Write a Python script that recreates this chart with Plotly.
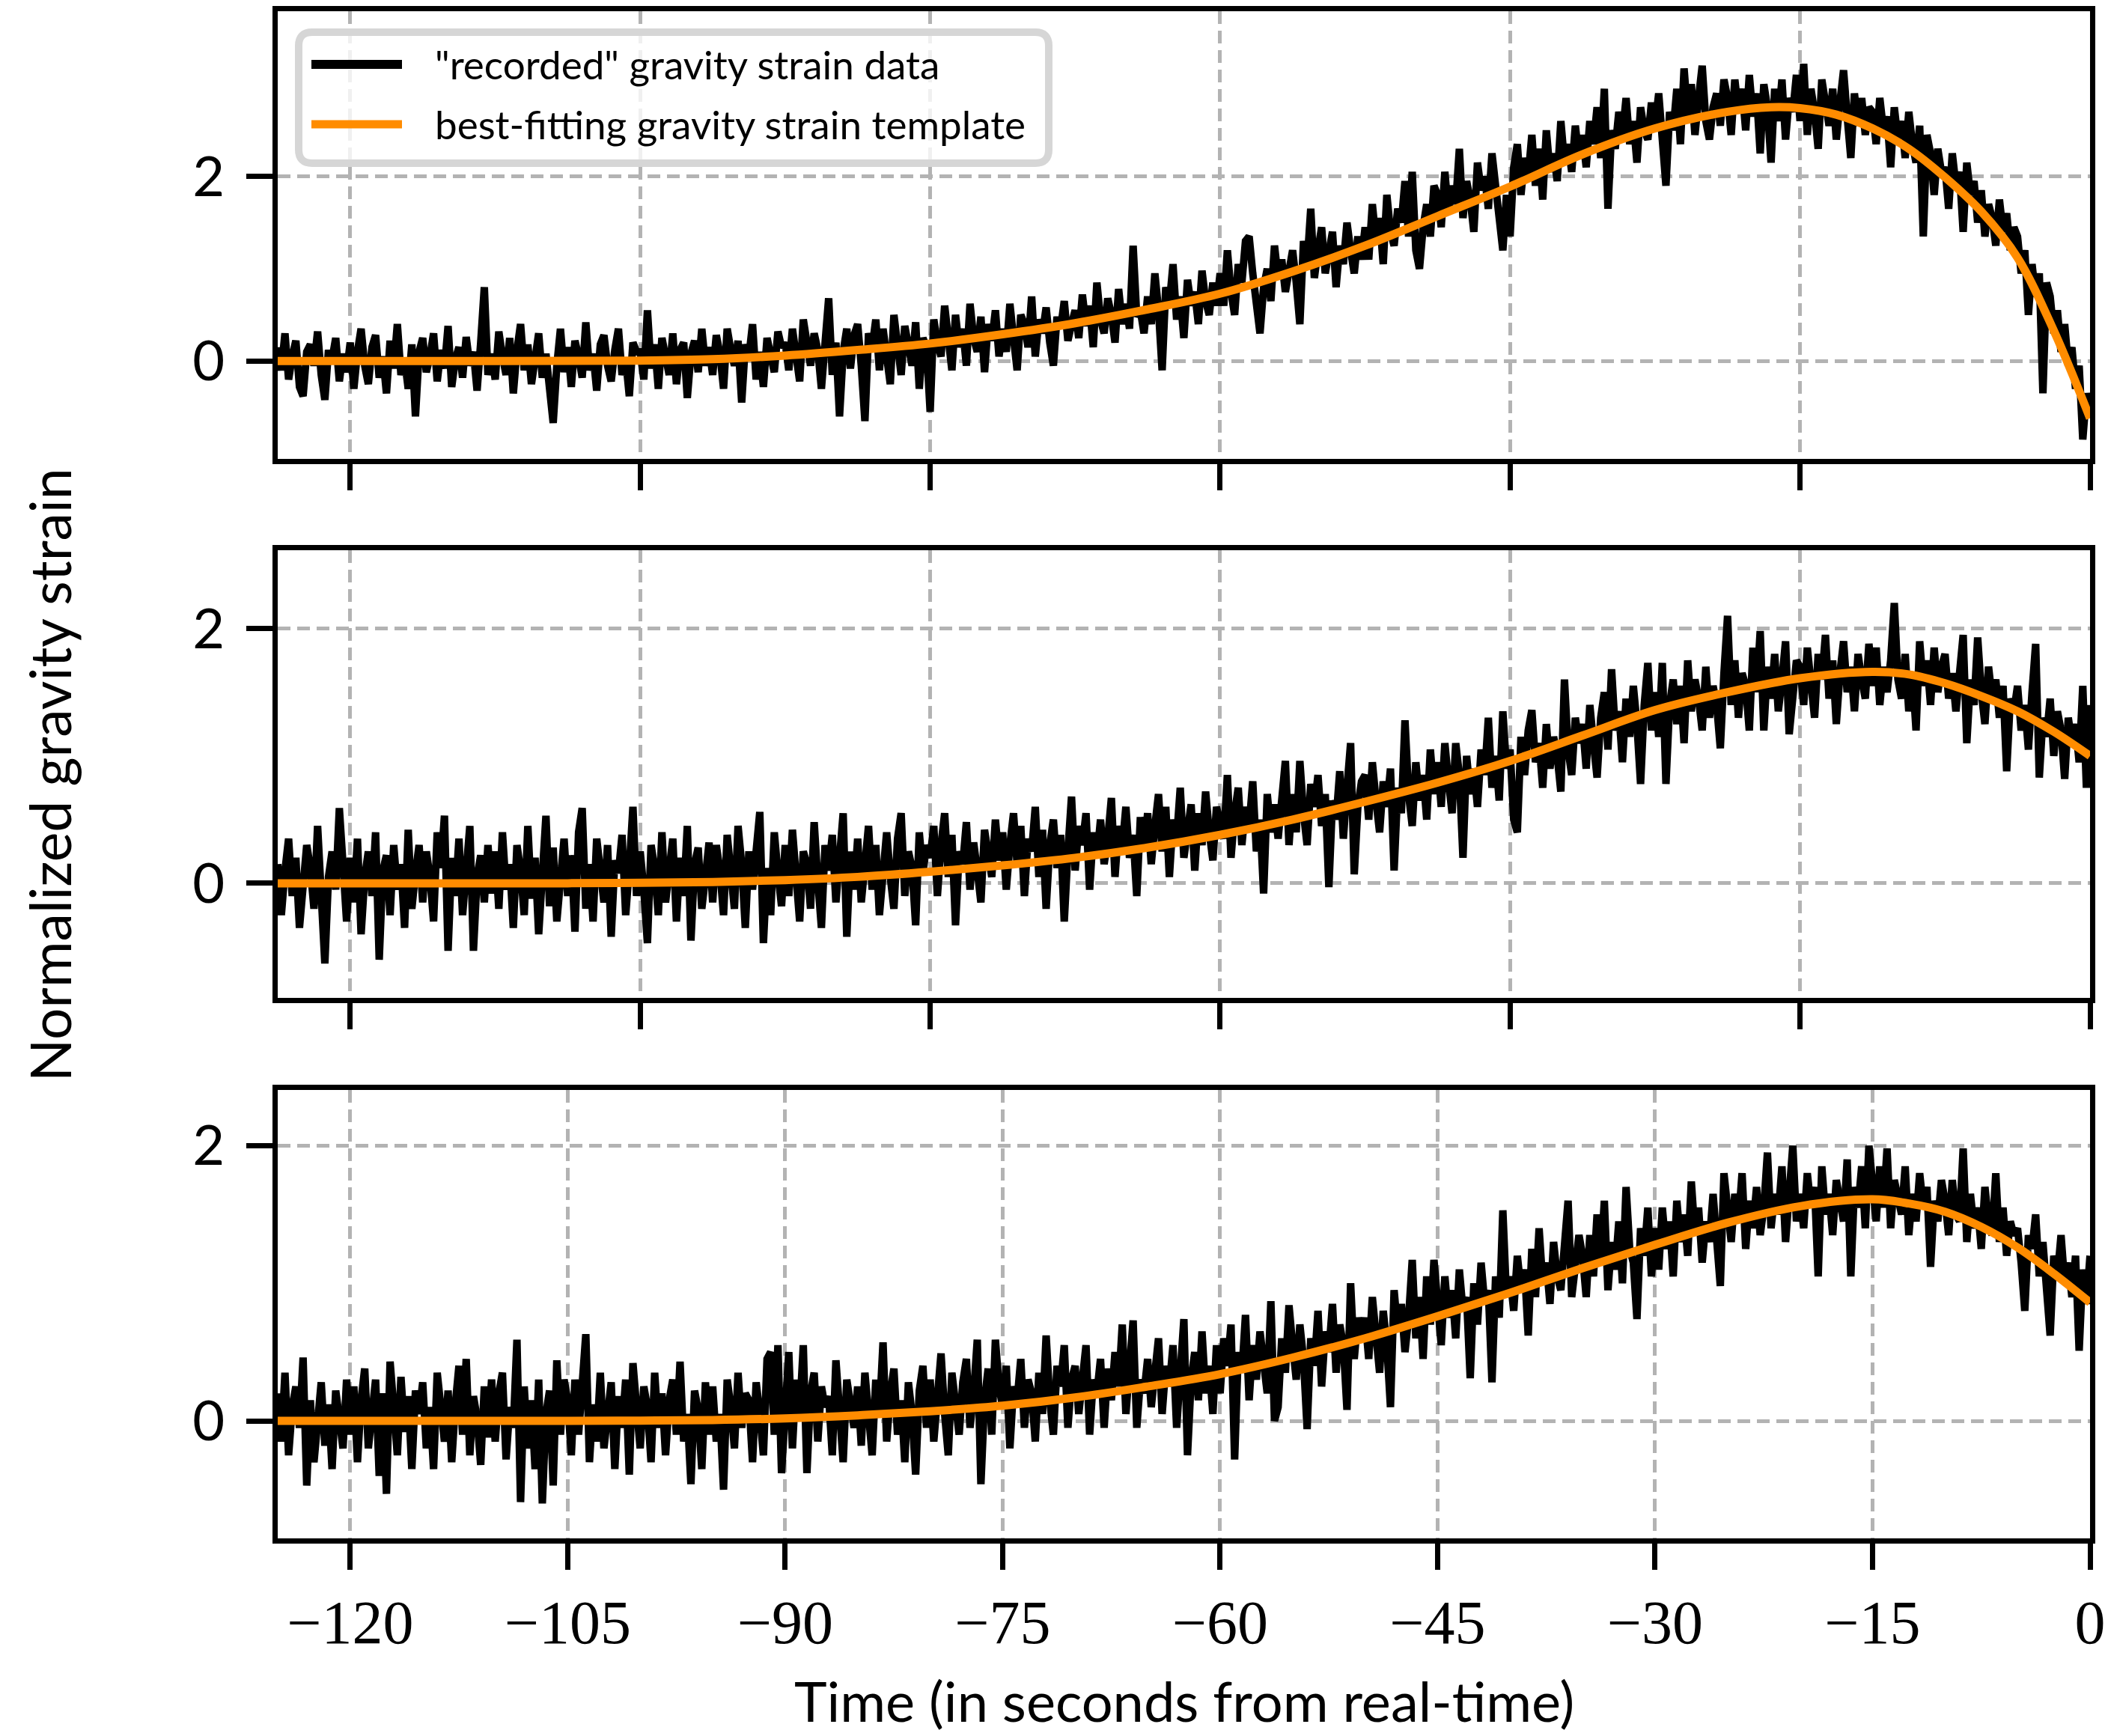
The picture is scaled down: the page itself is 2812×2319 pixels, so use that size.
import numpy as np
import plotly.graph_objects as go
from plotly.subplots import make_subplots

# ---------------- data ----------------
SAMPLE_START = -125.0   # seconds
SAMPLE_STEP = 0.25      # seconds between recorded samples

strain_top = [
    .15,-.10,.30,-.20,.05,.22,-.28,-.38,.10,.18,-.05,.32,-.15,-.42,.12,.02,.25,-.22,.08,-.12,
    .20,-.30,.10,.35,-.05,-.25,.15,.28,-.18,.05,-.35,.22,-.08,.40,-.15,.02,-.30,.18,-.60,.10,
    .25,-.12,.05,.30,-.22,.12,-.08,.38,-.28,.02,.15,-.18,.26,-.05,.10,-.32,.20,.80,-.15,.08,
    -.20,.32,.05,-.15,.25,-.35,.12,.40,-.10,.18,-.25,.05,.30,-.18,.08,-.30,-.67,-.05,.35,-.12,
    .15,-.28,.22,.05,-.18,.42,-.10,.08,-.32,.18,.28,-.05,-.22,.12,.35,-.15,.02,-.38,.20,.10,
    .10,-.20,.55,-.08,.18,-.30,.25,.05,-.15,.30,-.25,.12,.20,-.40,.08,.22,-.12,.35,-.05,.15,
    -.15,.28,.08,-.30,.35,.12,-.05,.22,-.45,.18,.05,.40,-.20,.10,-.28,.25,.02,-.12,.32,.15,
    .20,-.10,.35,.05,-.22,.45,.15,-.05,.30,.12,-.30,.25,.68,-.15,.20,-.60,.10,.35,-.08,.28,
    .40,-.05,-.65,.30,.15,.45,-.10,.35,.05,-.25,.50,.20,-.15,.38,.10,-.05,.42,-.30,.25,.15,
    -.55,.45,.20,.05,.60,.30,-.10,.50,.15,.35,-.05,.62,.25,.10,.48,-.12,.40,.22,.55,.05,
    .35,.10,.62,.25,-.10,.50,.40,.15,.70,.05,.45,.30,.58,.20,-.05,.48,.35,.65,.22,.40,
    .55,.25,.72,.38,.60,.15,.85,.45,.30,.68,.50,.20,.78,.40,.62,.35,1.25,.48,.55,.30,
    .70,.40,.95,.55,-.10,.80,.62,1.05,.45,.70,.25,.88,.60,.75,.40,.98,.65,.50,.85,.60,
    .95,.60,1.20,.75,.50,1.05,.85,1.30,1.35,.95,.55,.30,.80,1.00,.65,1.25,.90,1.10,.75,1.05,
    1.20,.85,.40,1.30,1.05,1.65,.90,1.20,1.45,.95,1.15,1.40,.80,1.25,1.05,1.50,1.20,.95,1.35,1.10,
    1.45,1.10,1.70,1.30,1.55,1.05,1.80,1.40,1.25,1.65,1.50,1.95,1.35,2.05,1.20,1.00,1.45,1.70,1.35,1.90,
    1.80,1.45,2.05,1.60,1.90,1.70,2.30,1.55,1.95,1.75,1.40,2.15,1.85,2.00,1.65,2.25,1.90,1.50,1.20,1.80,
    1.35,2.10,2.35,1.80,2.20,2.00,2.45,1.90,2.30,1.75,2.50,2.05,2.25,1.95,2.60,2.15,2.35,2.05,2.55,2.20,
    2.45,2.10,2.60,2.35,2.75,2.20,2.95,1.65,2.50,2.30,2.70,2.45,2.85,2.35,2.60,2.15,2.75,2.50,2.40,2.80,
    2.55,2.90,2.30,1.90,2.70,2.50,2.95,2.35,3.17,2.65,3.00,2.45,2.85,3.20,2.60,2.40,2.75,2.90,2.55,3.05,
    2.85,2.45,3.05,2.70,2.95,2.50,3.10,2.65,2.90,2.25,3.00,2.75,2.15,2.95,2.60,3.05,2.40,2.85,2.70,3.10,
    2.60,3.22,2.45,2.95,2.70,2.30,3.05,2.85,2.55,2.95,2.40,2.80,3.15,2.65,2.20,2.90,2.55,2.85,2.45,2.75,
    2.70,2.35,2.85,2.50,2.65,2.10,2.75,2.40,2.60,2.20,2.70,2.35,2.15,2.55,1.35,2.45,2.25,1.80,2.30,2.05,
    2.10,1.65,2.25,1.90,2.05,1.40,2.15,1.80,1.95,1.50,1.85,1.35,1.70,1.55,1.25,1.75,1.40,1.60,1.20,1.45,
    1.35,.95,1.20,.50,1.05,.70,.95,-.35,.85,.70,.30,.55,.10,.40,-.05,.15,-.30,-.05,-.85,-.35,
    -.55,
]

strain_mid = [
    .15,-.25,.10,.35,-.10,.20,-.35,-.05,.30,.12,-.20,.45,-.15,-.63,.05,.25,-.05,.59,.15,-.30,
    .20,-.15,.35,-.40,.05,.25,-.10,.40,-.60,.10,.22,-.25,.30,-.05,.15,-.35,.42,-.20,.08,.30,
    -.15,.25,.05,-.30,.40,.12,.53,-.53,.20,-.10,.35,-.25,.10,.45,-.53,.05,.22,-.15,.30,-.08,
    .25,-.20,.40,-.05,.15,-.35,.30,.10,-.25,.45,-.12,.20,-.40,.05,.53,-.18,.28,-.30,.10,.35,
    -.10,.22,-.38,.40,.59,-.20,.15,-.30,.35,.05,-.15,.30,-.42,.18,.08,.38,-.25,.12,.60,-.10,
    .25,-.05,-.47,.30,.12,-.25,.40,-.15,.08,.35,-.30,.20,-.10,.45,-.45,.15,.28,-.20,.05,.32,
    -.15,.30,.10,-.25,.38,.05,-.20,.45,.15,-.35,.25,-.05,.35,.56,-.47,.12,-.25,.40,.08,-.18,
    .30,-.10,.42,.05,-.30,.25,.15,-.20,.48,.02,-.35,.30,.10,.38,-.15,.20,.55,-.42,.25,-.05,
    .35,-.15,.20,.45,-.05,.30,-.25,.15,.40,.05,-.20,.35,.55,-.10,.25,.12,-.33,.40,.08,.30,
    .20,.45,-.10,.30,.55,.05,.38,-.33,.25,.15,.48,-.05,.32,.10,-.15,.42,.22,.05,.50,.18,
    .40,-.05,.30,.55,.15,.45,-.10,.35,.25,.60,.05,.42,-.20,.30,.50,.12,.38,-.30,.25,.68,
    .10,.45,.30,.55,-.05,.40,.20,.50,.15,.35,.67,.05,.45,.28,.60,.20,.38,-.10,.52,.25,
    .55,.15,.45,.70,.25,.60,.05,.50,.35,.75,.20,.48,.62,.10,.55,.30,.72,.40,.18,.60,
    .45,.35,.85,.20,.55,.75,.30,.60,.45,.80,.25,.50,-.08,.70,.40,.62,.35,.75,.96,.30,
    .70,.40,.96,.55,.30,.78,.60,.85,.45,.70,-.03,.65,.50,.88,.35,.75,1.10,.07,.60,.80,
    .85,.50,.95,.65,.40,.80,.60,.90,.10,.75,.55,1.28,.70,.45,.95,.65,.85,.50,1.05,.70,
    .95,.60,1.10,.80,.55,1.10,.85,.20,1.00,.70,.90,.60,1.05,.85,1.30,.75,1.00,.65,1.35,.90,
    1.05,.50,.40,1.15,.85,1.20,1.36,.95,1.10,.75,1.25,.90,1.15,1.00,.72,1.60,1.05,.85,1.30,1.10,
    1.25,.90,1.40,1.10,.83,1.30,1.50,1.05,1.68,1.20,1.35,.95,1.45,1.15,1.55,1.25,.78,1.40,1.73,1.20,
    1.50,1.15,1.73,.78,1.40,1.60,1.25,1.55,1.10,1.75,1.35,1.60,1.45,1.20,1.70,1.30,1.55,1.40,1.06,1.65,
    2.10,1.40,1.75,1.30,1.65,1.55,1.20,1.85,1.50,1.98,1.20,1.70,1.45,1.80,1.35,1.60,1.90,1.17,1.55,1.75,
    1.70,1.40,1.85,1.55,1.30,1.80,1.60,1.95,1.45,1.75,1.25,1.65,1.90,1.50,1.70,1.35,1.80,1.60,1.45,1.88,
    1.55,1.85,1.40,1.70,1.50,1.75,2.20,1.60,1.45,1.80,1.35,1.65,1.20,1.90,1.55,1.75,1.40,1.85,1.50,1.70,
    1.80,1.45,1.65,1.35,1.75,1.95,1.10,1.60,1.40,1.93,1.50,1.25,1.70,1.45,1.60,1.30,1.55,.88,1.45,1.35,
    1.55,1.20,1.40,1.05,1.50,1.88,.83,1.30,1.15,1.45,1.00,1.35,1.20,.82,1.30,1.10,1.25,.95,1.55,.75,
    1.40,
]

strain_bot = [
    .20,-.15,.35,-.25,.10,.25,-.05,.46,-.47,.15,-.30,.05,.28,-.18,.12,-.35,.22,.02,-.20,.30,
    -.10,.25,-.30,.15,.38,-.20,.05,.30,-.40,.20,-.53,.43,.10,-.25,.32,-.08,.18,-.35,.22,.05,
    .28,-.20,.10,-.35,.35,.05,-.15,.22,-.30,.12,.40,-.10,.45,-.25,.18,.02,-.32,.25,-.12,.30,
    -.15,.20,.35,-.28,.10,-.05,.59,-.59,.25,-.20,.15,-.35,.30,-.60,.05,.22,-.47,.44,-.10,.30,
    .15,-.25,.30,-.10,.20,.63,-.30,.12,-.15,.35,-.20,.05,.28,-.35,.18,-.05,.30,-.39,.42,.10,
    -.20,.25,.10,-.30,.35,-.05,.20,-.25,.15,.30,-.10,.43,-.15,.05,-.46,.22,.08,-.35,.28,-.10,
    .25,-.15,.05,-.50,.30,.10,-.20,.35,-.05,.20,.15,-.30,.28,.05,-.25,.45,.50,-.10,.55,-.38,
    .15,.50,-.20,.30,.05,.55,-.38,.20,.35,-.15,.25,.10,.18,-.25,.44,.05,-.30,.30,.12,-.05,
    .25,-.18,.35,.10,-.25,.30,.05,.57,-.15,.20,.38,-.10,.15,-.30,.28,.05,-.39,.22,.40,-.05,
    .30,-.15,.20,.49,.05,-.25,.35,.12,-.10,.28,.45,-.05,.20,.59,-.46,.15,.38,-.10,.59,.25,
    .10,.40,-.20,.25,.15,.45,-.05,.30,.20,-.15,.35,.05,.62,.15,-.10,.40,.25,.55,-.05,.30,
    .40,.05,.35,.55,-.10,.30,.20,.45,-.05,.38,.15,.50,.25,.70,.05,.40,.73,-.05,.30,.20,
    .45,.10,.35,.60,.05,.40,.25,.55,-.05,.45,.74,-.25,.30,.50,.15,.65,.20,.40,.05,.55,
    .20,.60,.40,.70,-.28,.50,.35,.77,.15,.55,.30,.65,.45,.20,.87,.00,.10,.60,.35,.84,
    .55,.30,.70,.45,-.06,.60,.40,.80,.25,.65,.50,.85,.35,.70,.55,.08,1.00,.45,.75,.60,
    .75,.45,.90,.60,.35,.80,.55,.10,.95,.65,.85,.50,.75,1.17,.60,.90,.45,1.05,.70,1.17,
    .85,.55,1.05,.75,.95,.60,1.10,.80,.90,.31,1.00,.70,1.15,.85,.95,.28,1.05,.75,1.53,.90,
    1.05,.80,1.20,.95,1.10,.62,1.25,.90,1.40,1.00,1.15,.85,1.30,1.05,.95,1.25,1.60,.90,1.15,1.35,
    1.20,.90,1.35,1.05,1.50,1.15,1.60,.95,1.30,1.10,1.45,1.00,1.70,1.25,1.15,.74,1.40,1.20,1.55,1.05,
    1.40,1.10,1.55,1.25,1.45,1.05,1.60,1.30,1.50,1.20,1.74,1.35,1.55,1.15,1.45,1.30,1.65,1.25,.98,1.80,
    1.50,1.30,1.65,1.45,1.80,1.25,1.60,1.40,1.70,1.35,1.55,1.95,1.40,1.65,1.50,1.85,1.30,1.60,2.00,1.45,
    1.65,1.40,1.80,1.55,1.70,1.05,1.85,1.50,1.65,1.35,1.75,1.60,1.45,1.90,1.05,1.70,1.55,1.85,1.40,2.00,
    1.70,1.45,1.85,1.55,1.98,1.40,1.75,1.60,1.50,1.85,1.35,1.65,1.45,1.80,1.55,1.70,1.12,1.60,1.45,1.75,
    1.60,1.35,1.75,1.50,1.45,1.98,1.30,1.65,1.40,1.55,1.25,1.70,1.45,1.35,1.80,1.30,1.55,1.20,1.45,1.35,
    1.40,1.15,.80,1.35,1.25,1.50,1.05,1.30,.95,.62,1.20,1.05,1.35,1.00,1.15,.90,1.20,.51,1.10,.85,
    1.20,
]

# best-fitting template, read at knots
template_time_top = [-125, -110, -100, -95, -90, -85, -80, -75, -70, -65, -60, -55, -50, -45, -40,
                     -35, -30, -25, -22, -20, -17.5, -15, -12.5, -10, -7.5, -5, -2.5, 0]
template_top = [0.0, 0.0, 0.005, 0.02, 0.06, 0.12, 0.19, 0.29, 0.41, 0.56, 0.73, 0.97, 1.25, 1.57, 1.89,
                2.24, 2.52, 2.70, 2.75, 2.74, 2.67, 2.52, 2.30, 1.99, 1.62, 1.12, 0.33, -0.62]

template_time_mid = [-125, -105, -100, -95, -90, -85, -80, -75, -70, -65, -60, -55, -50, -45, -40,
                     -35, -30, -25, -20, -15, -12.5, -10, -7.5, -5, -2.5, 0]
template_mid = [0.0, 0.0, 0.003, 0.01, 0.025, 0.05, 0.09, 0.14, 0.20, 0.28, 0.38, 0.50, 0.64, 0.79, 0.96,
                1.16, 1.36, 1.50, 1.61, 1.66, 1.64, 1.57, 1.47, 1.35, 1.19, 1.0]

template_time_bot = [-125, -105, -100, -95, -90, -85, -80, -75, -70, -65, -60, -55, -50, -45, -40,
                     -35, -30, -25, -20, -15, -12.5, -10, -7.5, -5, -2.5, 0]
template_bot = [0.0, 0.0, 0.002, 0.006, 0.018, 0.04, 0.07, 0.11, 0.17, 0.25, 0.34, 0.46, 0.60, 0.76, 0.93,
                1.11, 1.28, 1.44, 1.56, 1.61, 1.58, 1.52, 1.41, 1.26, 1.07, 0.86]

x_ticks_upper = [-120, -100, -80, -60, -40, -20, 0]
x_ticks_lower = [-120, -105, -90, -75, -60, -45, -30, -15, 0]
y_ticks = [0, 2]
y_ranges = [[-1.06, 3.79], [-0.90, 2.615], [-0.854, 2.405]]
x_range = [-125, 0]

LEGEND_DATA = '"recorded" gravity strain data'
LEGEND_TEMPLATE = 'best-fitting gravity strain template'
X_TITLE = 'Time (in seconds from real-time)'
Y_TITLE = 'Normalized gravity strain'

# ---------------- figure ----------------
W, H = 2812, 2319
ML, MR, MT, MB = 371, 20, 15, 264
PW, PH = W - ML - MR, H - MT - MB

def px(xp):
    return (xp - ML) / PW

def py(yp):
    return (H - MB - yp) / PH

DATA_COLOR = 'black'
TEMPLATE_COLOR = '#ff8c00'
GRID_COLOR = '#b3b3b3'
SANS = 'Lato, Open Sans, sans-serif'
SERIF = 'Liberation Serif, DejaVu Serif, serif'

fig = make_subplots(rows=3, cols=1, shared_xaxes=False)

panels = [(strain_top, template_time_top, template_top),
          (strain_mid, template_time_mid, template_mid),
          (strain_bot, template_time_bot, template_bot)]

for i, (strain, tt, tv) in enumerate(panels, start=1):
    t = SAMPLE_START + SAMPLE_STEP * np.arange(len(strain))
    fig.add_trace(go.Scatter(x=t, y=strain, mode='lines',
                             line=dict(color=DATA_COLOR, width=10),
                             name=LEGEND_DATA, showlegend=False), row=i, col=1)
    fig.add_trace(go.Scatter(x=tt, y=tv, mode='lines',
                             line=dict(color=TEMPLATE_COLOR, width=11, shape='spline', smoothing=1.0),
                             name=LEGEND_TEMPLATE, showlegend=False), row=i, col=1)

# panel pixel boxes (top, bottom)
panel_px = [(15, 613), (735, 1333), (1456, 2055)]

axis_common = dict(showline=True, linewidth=7, linecolor='black', mirror=True,
                   ticks='outside', ticklen=35, tickwidth=7, tickcolor='black',
                   showgrid=True, gridcolor=GRID_COLOR, gridwidth=5, griddash='17px,9px',
                   zeroline=False)

for i in range(1, 4):
    top, bot = panel_px[i - 1]
    xa = 'xaxis' if i == 1 else f'xaxis{i}'
    ya = 'yaxis' if i == 1 else f'yaxis{i}'
    lower = (i == 3)
    fig.layout[xa].update(domain=[0, 1], range=x_range, autorange=False,
                          tickmode='array',
                          tickvals=x_ticks_lower if lower else x_ticks_upper,
                          showticklabels=lower,
                          tickfont=dict(family=SERIF, size=82, color='black'),
                          ticklabelstandoff=0, ticklabeloverflow='allow',
                          **axis_common)
    fig.layout[ya].update(domain=[py(bot), py(top)], range=y_ranges[i - 1], autorange=False,
                          tickmode='array', tickvals=y_ticks,
                          tickfont=dict(family=SANS, size=74, color='black'),
                          ticklabelstandoff=14,
                          **axis_common)

# axis titles
annotations = [
    dict(text=X_TITLE, x=px(1582), y=py(2271), xref='paper', yref='paper',
         showarrow=False, xanchor='center', yanchor='middle',
         font=dict(family=SANS, size=74, color='black')),
    dict(text=Y_TITLE, x=px(66), y=py(1035), xref='paper', yref='paper',
         showarrow=False, xanchor='center', yanchor='middle', textangle=-90,
         font=dict(family=SANS, size=75, color='black')),
]

# legend (drawn in the top panel)
L, R, T, B, r = 399, 1401, 43, 218, 18
def P(x, y):
    return f'{px(x):.6f},{py(y):.6f}'
path = (f'M {P(L+r, T)} L {P(R-r, T)} Q {P(R, T)} {P(R, T+r)} L {P(R, B-r)} '
        f'Q {P(R, B)} {P(R-r, B)} L {P(L+r, B)} Q {P(L, B)} {P(L, B-r)} '
        f'L {P(L, T+r)} Q {P(L, T)} {P(L+r, T)} Z')
shapes = [
    dict(type='path', path=path, xref='paper', yref='paper',
         fillcolor='rgba(255,255,255,0.8)', line=dict(color='rgb(214,214,214)', width=10)),
    dict(type='line', x0=px(416), x1=px(537), y0=py(86), y1=py(86), xref='paper', yref='paper',
         line=dict(color=DATA_COLOR, width=12)),
    dict(type='line', x0=px(416), x1=px(537), y0=py(166), y1=py(166), xref='paper', yref='paper',
         line=dict(color=TEMPLATE_COLOR, width=11)),
]
for txt, yp in [(LEGEND_DATA, 86), (LEGEND_TEMPLATE, 166)]:
    annotations.append(dict(text=txt, x=px(579), y=py(yp), xref='paper', yref='paper',
                            showarrow=False, xanchor='left', yanchor='middle',
                            font=dict(family=SANS, size=53, color='black')))

fig.update_layout(width=W, height=H,
                  margin=dict(l=ML, r=MR, t=MT, b=MB, autoexpand=False),
                  paper_bgcolor='white', plot_bgcolor='white',
                  font=dict(family=SANS, color='black'),
                  showlegend=False,
                  annotations=annotations, shapes=shapes)

fig.write_html('out.html')
